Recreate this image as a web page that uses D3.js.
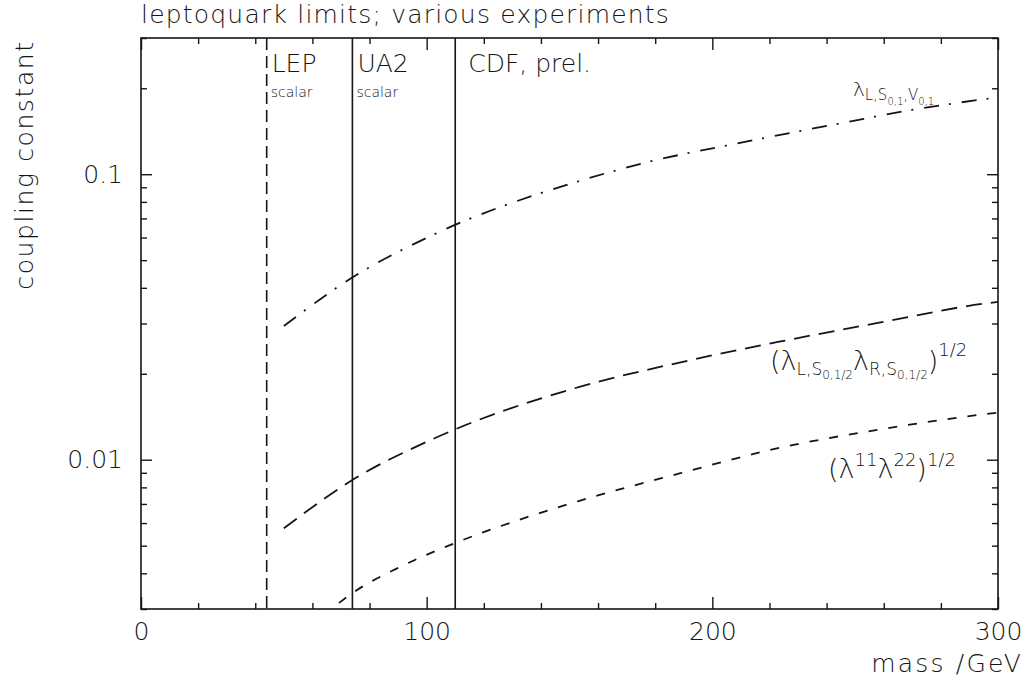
<!DOCTYPE html>
<html>
<head>
<meta charset="utf-8">
<script src="https://cdn.jsdelivr.net/npm/d3@7"></script>
<style>
  body { margin: 0; background: #fff; }
  text { font-family: "DejaVu Sans", Lato, sans-serif; font-weight: 200; fill: #151515; }
</style>
</head>
<body>
<svg id="chart" width="1029" height="679"></svg>
<script>
  // axis ticks
  var massTicks     = [0, 100, 200, 300];
  var massMinor     = [20, 40, 60, 80, 120, 140, 160, 180, 220, 240, 260, 280];
  var couplingTicks = [0.01, 0.1];
  var couplingMinor = [0.003, 0.004, 0.005, 0.006, 0.007, 0.008, 0.009,
                       0.02, 0.03, 0.04, 0.05, 0.06, 0.07, 0.08, 0.09, 0.2, 0.3];

  // experimental lower mass limits
  var expNames  = ["LEP", "UA2", "CDF, prel."];
  var expNotes  = ["scalar", "scalar", ""];
  var expMass   = [44, 74, 110];
  var expDashed = [true, false, false];

  // lambda_L for S0,1 / V0,1  (dash-dot)
  var massA  = [50, 73.4, 102.8, 153.5, 176.8, 211.8, 246.7, 269.9, 300];
  var limitA = [0.0294, 0.0431, 0.0617, 0.0947, 0.1099, 0.1300, 0.1520, 0.1680, 0.186];

  // (lambda_L lambda_R)^1/2 for S0,1/2  (long dash)
  var massB  = [50, 74, 102.2, 153.5, 188.5, 223.4, 258.4, 296.9, 300];
  var limitB = [0.00575, 0.00849, 0.01182, 0.0180, 0.0219, 0.0259, 0.0302, 0.0354, 0.0357];

  // (lambda11 lambda22)^1/2  (short dash)
  var massC  = [69.3, 74, 91.7, 109.8, 134.9, 153.5, 188.5, 223.4, 258.4, 296.9, 300];
  var limitC = [0.00315, 0.00341, 0.00426, 0.0051, 0.00628, 0.00718, 0.00895, 0.0110, 0.01275, 0.0145, 0.01462];

  var svg = d3.select("#chart");
  // (window.top is read-only, so no bare "top" here)
  var plotL = 141, plotR = 998, plotT = 38, plotB = 609;

  var x = d3.scaleLinear().domain([0, 300]).range([plotL, plotR]);
  var y = d3.scaleLog().domain([0.003, 0.3]).range([plotB, plotT]);

  var ink = "#151515";

  // frame
  svg.append("rect")
    .attr("x", plotL).attr("y", plotT)
    .attr("width", plotR - plotL).attr("height", plotB - plotT)
    .attr("fill", "none").attr("stroke", ink).attr("stroke-width", 1.6);

  function addAxis(axis, tx, ty, labels) {
    var g = svg.append("g").attr("transform", "translate(" + tx + "," + ty + ")").call(axis);
    g.select(".domain").remove();
    g.selectAll(".tick line").attr("stroke", ink).attr("stroke-width", 1.4);
    g.selectAll("text").attr("fill", ink).attr("font-family", null).attr("font-size", null)
      .style("font-size", "25px");
    if (!labels) g.selectAll("text").remove();
    return g;
  }

  var fmt = function(d) { return d; };
  addAxis(d3.axisBottom(x).tickValues(massTicks).tickSizeInner(-12).tickSizeOuter(0).tickPadding(13).tickFormat(fmt), 0, plotB, true);
  addAxis(d3.axisBottom(x).tickValues(massMinor).tickSizeInner(-6).tickSizeOuter(0), 0, plotB, false);
  addAxis(d3.axisTop(x).tickValues(massTicks).tickSizeInner(-12).tickSizeOuter(0), 0, plotT, false);
  addAxis(d3.axisTop(x).tickValues(massMinor).tickSizeInner(-6).tickSizeOuter(0), 0, plotT, false);

  addAxis(d3.axisLeft(y).tickValues(couplingTicks).tickSizeInner(-11).tickSizeOuter(0).tickPadding(18)
    .tickFormat(function(d) { return d === 0.1 ? "0.1" : "0.01"; }), plotL, 0, true);
  addAxis(d3.axisLeft(y).tickValues(couplingMinor).tickSizeInner(-6).tickSizeOuter(0), plotL, 0, false);
  addAxis(d3.axisRight(y).tickValues(couplingTicks).tickSizeInner(-11).tickSizeOuter(0), plotR, 0, false);
  addAxis(d3.axisRight(y).tickValues(couplingMinor).tickSizeInner(-6).tickSizeOuter(0), plotR, 0, false);

  // experiment limits
  expMass.forEach(function(m, i) {
    svg.append("line")
      .attr("x1", x(m)).attr("x2", x(m))
      .attr("y1", plotT).attr("y2", plotB)
      .attr("stroke", ink).attr("stroke-width", 1.6)
      .attr("stroke-dasharray", expDashed[i] ? "12,6" : null);
    svg.append("text")
      .attr("x", x(m) + (i === 2 ? 13 : 5)).attr("y", 72)
      .style("font-size", "25px")
      .text(expNames[i]);
    if (expNotes[i]) {
      svg.append("text")
        .attr("x", x(m) + 4).attr("y", 97)
        .style("font-size", "14px")
        .text(expNotes[i]);
    }
  });

  // limit curves
  svg.append("clipPath").attr("id", "plotClip")
    .append("rect").attr("x", plotL).attr("y", plotT).attr("width", plotR - plotL).attr("height", plotB - plotT);

  var line = d3.line()
    .x(function(d) { return x(d[0]); })
    .y(function(d) { return y(d[1]); })
    .curve(d3.curveMonotoneX);

  function drawCurve(ms, vs, dash) {
    svg.append("path")
      .datum(d3.zip(ms, vs))
      .attr("clip-path", "url(#plotClip)")
      .attr("d", line)
      .attr("fill", "none")
      .attr("stroke", ink)
      .attr("stroke-width", 1.8)
      .attr("stroke-dasharray", dash);
  }
  drawCurve(massA, limitA, "15,10,2,11");
  drawCurve(massB, limitB, "16,9");
  drawCurve(massC, limitC, "9,11");

  // labels with sub/superscripts: [text, size, shift below baseline]
  function richText(px, py, parts) {
    var t = svg.append("text").attr("x", px).attr("y", py);
    var prev = 0;
    parts.forEach(function(p) {
      t.append("tspan")
        .attr("dy", p[2] - prev)
        .style("font-size", p[1] + "px")
        .text(p[0]);
      prev = p[2];
    });
  }

  richText(x(249.2), y(0.188), [
    ["\u03bb", 20, 0], ["L,S", 15, 4], ["0,1", 10, 9], [",V", 15, 4], ["0,1", 10, 9]
  ]);
  richText(x(220.2), y(0.0206), [
    ["(", 27, 0], ["\u03bb", 27, 0], ["L,S", 17, 5], ["0,1/2", 12, 9],
    ["\u03bb", 27, 0], ["R,S", 17, 5], ["0,1/2", 12, 9], [")", 27, 0], ["1/2", 18, -14]
  ]);
  richText(x(240.5), y(0.00863), [
    ["(", 27, 0], ["\u03bb", 27, 0], ["11", 18, -12], ["\u03bb", 27, 0], ["22", 18, -12],
    [")", 27, 0], ["1/2", 18, -12]
  ]);

  // titles
  svg.append("text")
    .attr("x", plotL).attr("y", 23)
    .style("font-size", "25px").style("letter-spacing", "1.2px")
    .text("leptoquark limits; various experiments");

  svg.append("text")
    .attr("x", 1023).attr("y", 672)
    .attr("text-anchor", "end")
    .style("font-size", "25px").style("letter-spacing", "2.2px")
    .text("mass /GeV");

  svg.append("text")
    .attr("transform", "translate(33,165) rotate(-90)")
    .attr("text-anchor", "middle")
    .style("font-size", "25px").style("letter-spacing", "1.6px")
    .text("coupling constant");
</script>
</body>
</html>
